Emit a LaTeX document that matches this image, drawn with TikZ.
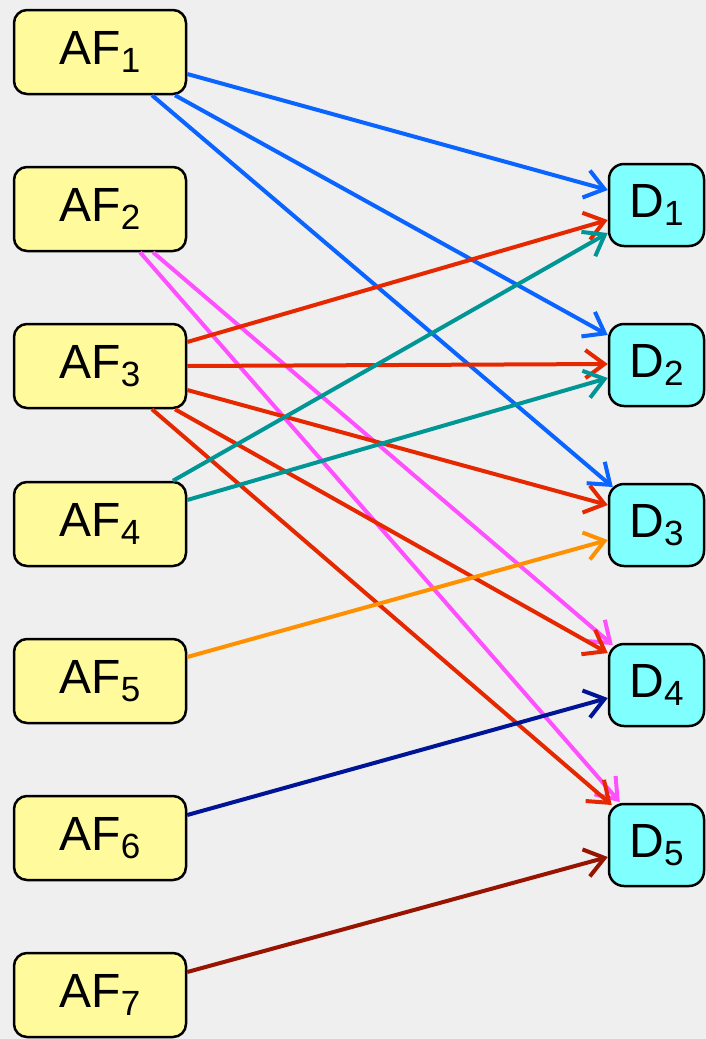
\documentclass[tikz,border=0pt]{standalone}
\usepackage{fontspec}
\setmainfont{Liberation Sans}
\usetikzlibrary{arrows.meta}
\definecolor{bgcol}{RGB}{239,239,239}
\definecolor{afill}{RGB}{255,250,155}
\definecolor{dfill}{RGB}{128,255,255}
\definecolor{cblue}{RGB}{10,100,255}
\definecolor{cred}{RGB}{230,40,0}
\definecolor{cpink}{RGB}{255,80,255}
\definecolor{cteal}{RGB}{0,150,150}
\definecolor{corange}{RGB}{255,145,0}
\definecolor{cnavy}{RGB}{0,20,150}
\definecolor{cmaroon}{RGB}{150,20,0}
% label with a lowered index digit
\newcommand{\lbl}[2]{#1\raisebox{-0.3ex}{\fontsize{35}{35}\selectfont #2}}
\begin{document}
\begin{tikzpicture}[x=1pt,y=-1pt,
  afbox/.style={draw=black, line width=2.5pt, fill=afill, rounded corners=13pt,
    minimum width=172pt, minimum height=84pt, inner sep=0pt,
    font=\fontsize{48}{48}\selectfont},
  dbox/.style={draw=black, line width=2.5pt, fill=dfill, rounded corners=15pt,
    minimum width=95pt, minimum height=82pt, inner sep=0pt,
    font=\fontsize{48}{48}\selectfont},
  link/.style={line width=4pt, -{Straight Barb[length=19pt,width=28pt]}}]
\useasboundingbox (0,0) rectangle (706,1039);
\fill[bgcol] (0,0) rectangle (706,1039);

% sources
\node[afbox] (AF1) at (100,52)  {\lbl{AF}{1}};
\node[afbox] (AF2) at (100,209) {\lbl{AF}{2}};
\node[afbox] (AF3) at (100,366) {\lbl{AF}{3}};
\node[afbox] (AF4) at (100,524) {\lbl{AF}{4}};
\node[afbox] (AF5) at (100,681) {\lbl{AF}{5}};
\node[afbox] (AF6) at (100,838) {\lbl{AF}{6}};
\node[afbox] (AF7) at (100,995) {\lbl{AF}{7}};

% targets
\node[dbox] (D1) at (656.5,205) {\lbl{D}{1}};
\node[dbox] (D2) at (656.5,365) {\lbl{D}{2}};
\node[dbox] (D3) at (656.5,525) {\lbl{D}{3}};
\node[dbox] (D4) at (656.5,685) {\lbl{D}{4}};
\node[dbox] (D5) at (656.5,845) {\lbl{D}{5}};

% AF1
\draw[link, cblue] ([yshift=-22pt]AF1.east) -- ([yshift=15pt]D1.west);
\draw[link, cblue] ([xshift=75pt]AF1.south) -- ([yshift=30pt]D2.west);
\draw[link, cblue] ([xshift=52pt]AF1.south) -- ([xshift=5pt,yshift=38pt]D3.west);
% AF2
\draw[link, cpink] ([xshift=53pt]AF2.south) -- ([xshift=5pt,yshift=40pt]D4.west);
\draw[link, cpink] ([xshift=40pt]AF2.south) -- ([xshift=12pt,yshift=43pt]D5.west);
% AF3
\draw[link, cred] ([yshift=24pt]AF3.east) -- ([yshift=-15pt]D1.west);
\draw[link, cred] (AF3.east) -- ([yshift=1pt]D2.west);
\draw[link, cred] ([yshift=-24pt]AF3.east) -- ([yshift=20pt]D3.west);
\draw[link, cred] ([xshift=75pt]AF3.south) -- ([yshift=32pt]D4.west);
\draw[link, cred] ([xshift=52pt]AF3.south) -- ([xshift=4pt,yshift=40pt]D5.west);
% AF4
\draw[link, cteal] ([xshift=73pt]AF4.north) -- ([yshift=-28pt]D1.west);
\draw[link, cteal] ([yshift=24pt]AF4.east) -- ([yshift=-13pt]D2.west);
% AF5 .. AF7
\draw[link, corange] ([yshift=24pt]AF5.east) -- ([yshift=-15pt]D3.west);
\draw[link, cnavy] ([yshift=23pt]AF6.east) -- ([yshift=-13pt]D4.west);
\draw[link, cmaroon] ([yshift=23pt]AF7.east) -- ([yshift=-12pt]D5.west);
\end{tikzpicture}
\end{document}
